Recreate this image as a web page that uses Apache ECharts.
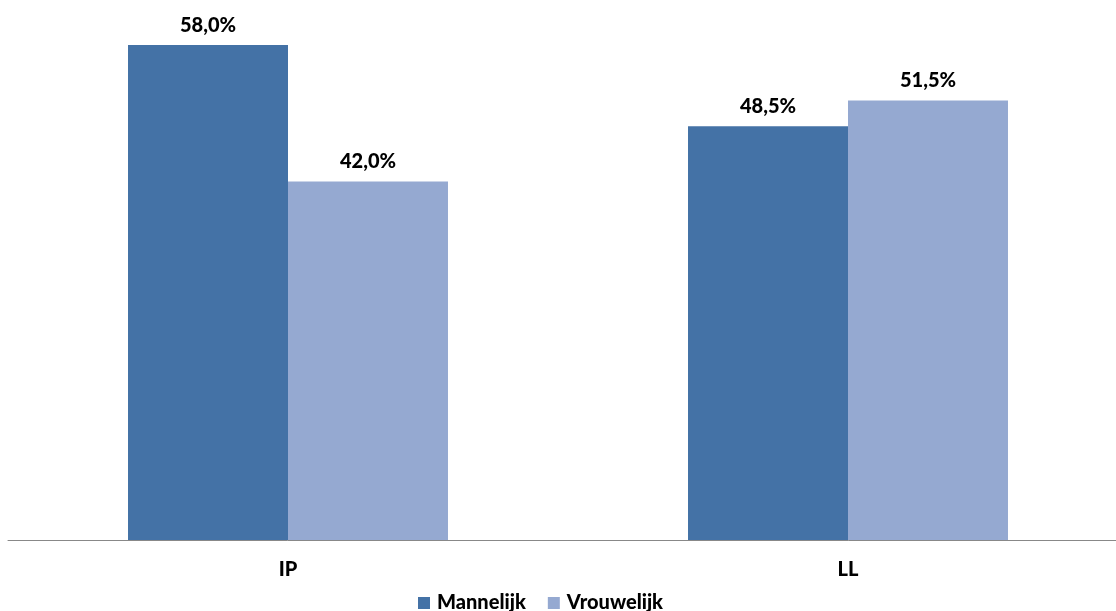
<!DOCTYPE html>
<html><head><meta charset="utf-8">
<script src="https://cdn.jsdelivr.net/npm/echarts@6/dist/echarts.min.js"></script>
<style>html,body{margin:0;padding:0;background:#fff;overflow:hidden}#c{width:1128px;height:611px}</style>
</head><body><div id="c"></div>
<script>
const categories = ['IP', 'LL'];
const seriesNames = ['Mannelijk', 'Vrouwelijk'];
const mannelijk = [58.0, 48.5];
const vrouwelijk = [42.0, 51.5];
const colors = ['#4472a6', '#95a9d1'];
const FONT = 'Lato';
const chart = echarts.init(document.getElementById('c'));
const fmt = p => p.value.toFixed(1).replace('.', ',') + '%';
const mk = (name, data, color) => ({
  name, type: 'bar', data, barGap: '0%', barCategoryGap: '42.86%',
  itemStyle: { color },
  label: { show: true, position: 'top', distance: 10, formatter: fmt,
    fontFamily: FONT, fontWeight: 900, fontSize: 20, color: '#000' }
});
chart.setOption({
  animation: false,
  grid: { left: 8, right: 0, top: 28, bottom: 71, containLabel: false },
  legend: { bottom: -7, left: 413, itemWidth: 12, itemHeight: 12, itemGap: 22,
    icon: 'rect',
    textStyle: { fontFamily: FONT, fontWeight: 900, fontSize: 20, color: '#000', padding: [0, 0, 0, 2] },
    data: seriesNames },
  xAxis: { type: 'category', data: categories,
    axisLine: { lineStyle: { color: '#888', width: 1 } },
    axisTick: { show: false },
    axisLabel: { fontFamily: FONT, fontWeight: 900, fontSize: 20, color: '#000', margin: 20 } },
  yAxis: { type: 'value', min: 0, max: 60, show: false, splitLine: { show: false } },
  series: [mk(seriesNames[0], mannelijk, colors[0]), mk(seriesNames[1], vrouwelijk, colors[1])]
});
</script></body></html>
